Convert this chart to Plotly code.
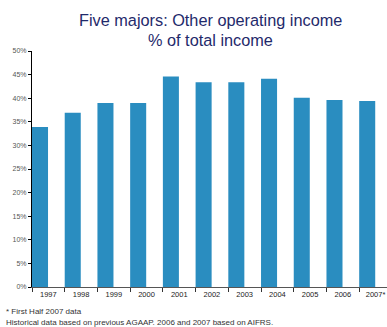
import plotly.graph_objects as go

years = ["1997", "1998", "1999", "2000", "2001", "2002", "2003", "2004", "2005", "2006", "2007*"]
values = [33.9, 36.9, 39.0, 39.0, 44.6, 43.4, 43.4, 44.1, 40.1, 39.6, 39.4]
y_ticks = [0, 5, 10, 15, 20, 25, 30, 35, 40, 45, 50]
y_tick_labels = [f"{v}%" for v in y_ticks]

L, R, T, B = 32, 387, 51, 287
W, H = R - L, B - T


def px_x(x):
    return (x - L) / W


def px_y(y):
    return (B - y) / H


fig = go.Figure()
fig.add_trace(go.Bar(
    x=years, y=values,
    marker=dict(color="#2A8DC0", line=dict(width=0)),
    width=0.49, offset=-0.5,
))

fig.update_layout(
    width=387, height=327,
    margin=dict(l=L, r=387 - R, t=T, b=327 - B),
    paper_bgcolor="white", plot_bgcolor="white",
    showlegend=False,
    font=dict(family="Liberation Sans, Arial, sans-serif"),
    xaxis=dict(
        type="category",
        range=[-0.5, 10.35],
        showline=True, linecolor="#555555", linewidth=1,
        ticks="outside", tickson="boundaries", ticklen=4, tickcolor="#333333",
        tickfont=dict(size=7.5, color="#222222"),
        showgrid=False, zeroline=False, fixedrange=True,
    ),
    yaxis=dict(
        range=[0, 50],
        tickvals=y_ticks, ticktext=y_tick_labels,
        showline=True, linecolor="black", linewidth=1,
        ticks="outside", ticklen=3, tickcolor="black",
        tickfont=dict(size=7, color="#555555"),
        showgrid=False, zeroline=False, fixedrange=True,
    ),
    annotations=[
        dict(text="Five majors: Other operating income", x=px_x(210), y=px_y(20),
             xref="paper", yref="paper", xanchor="center", yanchor="middle",
             showarrow=False, font=dict(size=16.3, color="#1F2A6B")),
        dict(text="% of total income", x=px_x(210), y=px_y(40),
             xref="paper", yref="paper", xanchor="center", yanchor="middle",
             showarrow=False, font=dict(size=16.3, color="#1F2A6B")),
        dict(text="* First Half 2007 data", x=px_x(4), y=px_y(311),
             xref="paper", yref="paper", xanchor="left", yanchor="middle",
             showarrow=False, font=dict(size=8, color="#333333")),
        dict(text="Historical data based on previous AGAAP. 2006 and 2007 based on AIFRS.",
             x=px_x(4), y=px_y(322), xref="paper", yref="paper",
             xanchor="left", yanchor="middle", showarrow=False,
             font=dict(size=8, color="#333333")),
    ],
)

fig.write_html("out.html")
